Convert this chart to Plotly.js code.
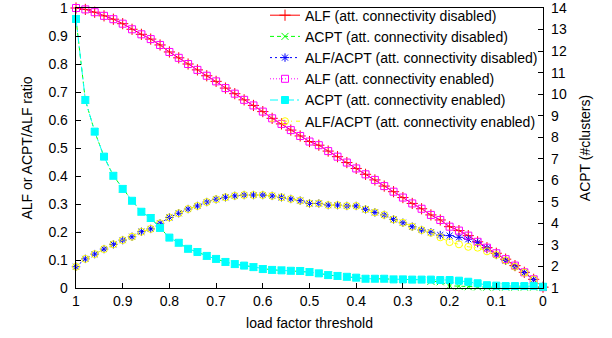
<!DOCTYPE html>
<html>
<head>
<meta charset="utf-8">
<script src="https://cdn.plot.ly/plotly-3.0.1.min.js"></script>
<style>
  html, body { margin: 0; padding: 0; background: #fff; }
  #chart { width: 612px; height: 338px; }
</style>
</head>
<body>
<div id="chart"></div>
<script>
// load factor threshold, 1.00 down to 0.00 in 0.02 steps
const threshold = [1.00,0.98,0.96,0.94,0.92,0.90,0.88,0.86,0.84,0.82,0.80,0.78,0.76,0.74,0.72,0.70,0.68,0.66,0.64,0.62,
  0.60,0.58,0.56,0.54,0.52,0.50,0.48,0.46,0.44,0.42,0.40,0.38,0.36,0.34,0.32,0.30,0.28,0.26,0.24,0.22,
  0.20,0.18,0.16,0.14,0.12,0.10,0.08,0.06,0.04,0.02,0.00];

// ALF (attractor connectivity disabled)
const alfDisabled = [1.000,0.995,0.985,0.972,0.960,0.944,0.924,0.906,0.889,0.868,0.843,0.822,0.800,0.779,0.758,0.738,0.714,0.694,0.672,0.652,
  0.630,0.606,0.586,0.564,0.543,0.523,0.510,0.489,0.469,0.448,0.427,0.406,0.386,0.364,0.344,0.323,0.302,0.283,0.261,0.243,
  0.219,0.205,0.187,0.165,0.144,0.124,0.103,0.080,0.056,0.031,0.003];
// ACPT (attractor connectivity disabled)
const acptDisabled = [13.49,9.73,8.26,7.10,6.21,5.60,5.05,4.54,4.25,3.79,3.34,3.10,2.82,2.67,2.49,2.35,2.21,2.11,2.04,1.97,
  1.88,1.84,1.82,1.80,1.79,1.74,1.68,1.60,1.56,1.52,1.48,1.43,1.43,1.43,1.40,1.40,1.39,1.39,1.31,1.29,
  1.10,1.08,1.06,1.05,1.04,1.04,1.04,1.04,1.04,1.04,1.04];
// ALF/ACPT (attractor connectivity disabled)
const ratioDisabled = [0.076,0.104,0.121,0.139,0.156,0.171,0.183,0.201,0.211,0.231,0.252,0.267,0.282,0.293,0.307,0.317,0.324,0.329,0.332,0.332,
  0.332,0.329,0.324,0.318,0.312,0.302,0.302,0.296,0.296,0.293,0.293,0.281,0.270,0.261,0.245,0.233,0.219,0.207,0.199,0.189,
  0.187,0.181,0.174,0.162,0.142,0.118,0.098,0.076,0.055,0.030,0.004];

// ALF (attractor connectivity enabled)
const alfEnabled = [1.000,0.995,0.985,0.972,0.960,0.944,0.924,0.906,0.889,0.868,0.843,0.822,0.800,0.779,0.758,0.738,0.714,0.694,0.672,0.652,
  0.630,0.606,0.586,0.564,0.543,0.523,0.510,0.489,0.469,0.448,0.427,0.406,0.386,0.364,0.344,0.323,0.302,0.283,0.261,0.243,
  0.219,0.205,0.187,0.165,0.144,0.124,0.103,0.080,0.056,0.031,0.003];
// ACPT (attractor connectivity enabled)
const acptEnabled = [13.49,9.73,8.26,7.10,6.21,5.60,5.05,4.54,4.25,3.79,3.34,3.10,2.82,2.67,2.49,2.35,2.21,2.11,2.04,1.97,
  1.88,1.84,1.82,1.80,1.79,1.74,1.68,1.60,1.56,1.52,1.48,1.43,1.43,1.43,1.40,1.40,1.39,1.39,1.39,1.37,
  1.37,1.34,1.29,1.22,1.13,1.11,1.09,1.09,1.09,1.09,1.06];
// ALF/ACPT (attractor connectivity enabled)
const ratioEnabled = [0.076,0.104,0.121,0.139,0.156,0.171,0.183,0.201,0.211,0.231,0.252,0.267,0.282,0.293,0.307,0.317,0.324,0.329,0.332,0.332,
  0.332,0.329,0.324,0.318,0.312,0.302,0.302,0.296,0.296,0.293,0.293,0.281,0.270,0.261,0.245,0.233,0.219,0.207,0.197,0.181,
  0.164,0.156,0.147,0.144,0.131,0.118,0.098,0.076,0.055,0.030,0.004];

const seriesNames = [
  'ALF (att. connectivity disabled)',
  'ACPT (att. connectivity disabled)',
  'ALF/ACPT (att. connectivity disabled)',
  'ALF (att. connectivity enabled)',
  'ACPT (att. connectivity enabled)',
  'ALF/ACPT (att. connectivity enabled)'
];

const FONT = 'Liberation Sans, Arial, Helvetica, sans-serif';
const FS = 14;

function tr(name, y, yaxis, color, dash, symbol, size) {
  return {
    type: 'scatter', mode: 'lines+markers', name: name,
    x: threshold, y: y, yaxis: yaxis, cliponaxis: false,
    line: {color: color, width: 1, dash: dash},
    marker: {symbol: symbol, size: size, color: color, line: {color: color, width: 1}}
  };
}

const data = [
  tr(seriesNames[0], alfDisabled, 'y', '#ff0000', 'solid', 'cross-thin-open', 8),
  tr(seriesNames[1], acptDisabled, 'y2', '#00ff00', '4px,3px', 'x-thin-open', 7),
  tr(seriesNames[2], ratioDisabled, 'y', '#0000ff', '2px,3px', 'asterisk-open', 7),
  tr(seriesNames[3], alfEnabled, 'y', '#ff00ff', '1px,2px', 'square-open', 7),
  tr(seriesNames[4], acptEnabled, 'y2', '#00ffff', '8px,3px,2px,3px', 'square', 7),
  tr(seriesNames[5], ratioEnabled, 'y', '#ffff00', '4px,4px,1px,4px', 'circle-open', 7)
];

const axisCommon = {
  showgrid: false, zeroline: false, showline: true, linecolor: '#000', linewidth: 1.3,
  ticks: 'inside', ticklen: 5, tickwidth: 1, tickcolor: '#000',
  ticklabeloverflow: 'allow',
  tickfont: {family: FONT, size: FS, color: '#000'}
};

const layout = {
  width: 612, height: 338,
  margin: {l: 76, r: 69, t: 8, b: 50, autoexpand: false},
  paper_bgcolor: '#fff', plot_bgcolor: '#fff',
  font: {family: FONT, size: FS, color: '#000'},
  showlegend: true,
  legend: {
    x: 1.0, y: 1.03, xanchor: 'right', yanchor: 'top',
    bgcolor: 'rgba(0,0,0,0)', borderwidth: 0,
    font: {family: FONT, size: FS, color: '#000'}
  },
  xaxis: Object.assign({}, axisCommon, {
    range: [1, 0], dtick: 0.1, tick0: 0, mirror: true,
    title: {text: 'load factor threshold', font: {family: FONT, size: FS, color: '#000'}, standoff: 10}
  }),
  yaxis: Object.assign({}, axisCommon, {
    range: [0, 1], dtick: 0.1, tick0: 0, ticklabelstandoff: 4,
    title: {text: 'ALF or ACPT/ALF ratio', font: {family: FONT, size: FS, color: '#000'}, standoff: 12}
  }),
  yaxis2: Object.assign({}, axisCommon, {
    overlaying: 'y', side: 'right', range: [1, 14], dtick: 1, tick0: 1, ticklabelstandoff: 4,
    title: {text: 'ACPT (#clusters)', font: {family: FONT, size: FS, color: '#000'}, standoff: 14}
  })
};

Plotly.newPlot('chart', data, layout, {displayModeBar: false, staticPlot: true});
</script>
</body>
</html>
